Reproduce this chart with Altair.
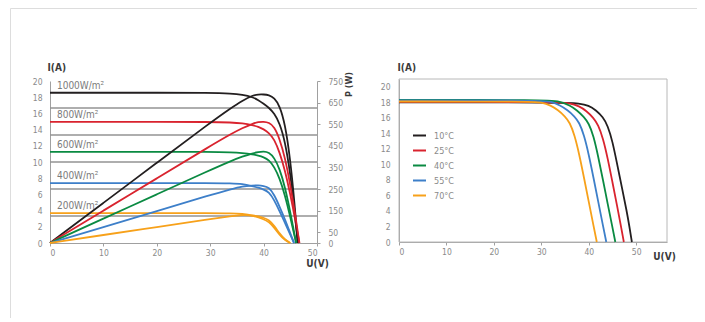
import altair as alt
import pandas as pd

# ---------------- Left chart: I-V and P-V curves at several irradiances ----------------
IRR = ["1000W/m²", "800W/m²", "600W/m²", "400W/m²", "200W/m²"]
ISC_LEFT = [18.55, 14.95, 11.25, 7.4, 3.7]
LABEL_V = [1.3, 1.3, 1.3, 1.3, 1.3]

V_1000 = [0, 10, 20, 30, 34, 36, 38, 39, 40, 41, 42, 43, 44, 45, 45.8, 46.4]
I_1000 = [18.55, 18.55, 18.55, 18.55, 18.45, 18.3, 18.0, 17.65, 17.2, 16.7, 16.0, 14.8, 12.6, 8.6, 4.0, 0]
P_1000 = [0, 186, 371, 557, 627, 659, 684, 688, 688, 685, 672, 636, 554, 387, 183, 0]

V_800 = [0, 10, 20, 30, 34, 36, 38, 39, 40, 41, 42, 43, 44, 45, 46, 46.7]
I_800 = [14.95, 14.95, 14.95, 14.95, 14.88, 14.78, 14.55, 14.35, 14.05, 13.6, 12.8, 11.2, 9.0, 6.0, 2.6, 0]
P_800 = [0, 150, 299, 449, 506, 532, 553, 560, 562, 558, 538, 482, 396, 270, 120, 0]

V_600 = [0, 10, 20, 30, 34, 36, 38, 39, 40, 41, 42, 43, 44, 45, 45.6, 46.1]
I_600 = [11.25, 11.25, 11.25, 11.25, 11.2, 11.12, 10.95, 10.8, 10.6, 10.25, 9.4, 8.0, 5.9, 3.2, 1.4, 0]
P_600 = [0, 113, 225, 338, 381, 400, 416, 421, 424, 420, 395, 344, 260, 144, 64, 0]

V_400 = [0, 10, 20, 30, 34, 36, 38, 39, 40, 41, 42, 43, 44, 45, 45.7]
I_400 = [7.4, 7.4, 7.4, 7.4, 7.36, 7.3, 7.0, 6.85, 6.6, 6.3, 5.3, 3.9, 2.5, 1.0, 0]
P_400 = [0, 74, 148, 222, 250, 263, 266, 267, 264, 258, 223, 168, 110, 45, 0]

V_200 = [0, 10, 20, 30, 34, 36, 38, 40, 41, 42, 43, 44, 45]
I_200 = [3.7, 3.7, 3.7, 3.7, 3.67, 3.6, 3.4, 2.95, 2.6, 1.9, 1.0, 0.35, 0]
P_200 = [0, 37, 74, 111, 125, 130, 129, 118, 107, 80, 43, 15, 0]

GRID_P = [125, 250, 375, 500, 625]
LEFT_U_TICKS = [0, 10, 20, 30, 40, 50]
LEFT_I_TICKS = [0, 2, 4, 6, 8, 10, 12, 14, 16, 18, 20]
P_TICKS = [0, 50, 150, 250, 350, 450, 550, 650, 750]

# ---------------- Right chart: I-V curves at several temperatures ----------------
TEMPS = ["10°C", "25°C", "40°C", "55°C", "70°C"]

V_10C = [0, 35, 38, 40, 41.5, 43, 44, 45, 46, 47, 48, 48.6, 49.1]
I_10C = [18.0, 18.0, 17.85, 17.6, 17.0, 16.1, 15.0, 13.0, 10.0, 7.0, 4.0, 1.9, 0]
V_25C = [0, 33, 36, 38, 39.5, 41, 42, 43, 44, 45, 46, 46.8, 47.4]
I_25C = [18.05, 18.05, 17.9, 17.5, 16.9, 16.0, 15.1, 13.4, 10.8, 7.7, 4.6, 2.0, 0]
V_40C = [0, 31, 34, 36, 37.5, 39, 40, 41, 42, 43, 44, 45, 45.6]
I_40C = [18.3, 18.3, 18.1, 17.6, 17.0, 16.1, 15.3, 13.7, 11.0, 8.0, 4.9, 1.9, 0]
V_55C = [0, 30, 32, 34, 35.5, 37, 38, 39, 40, 41, 42, 43, 43.7]
I_55C = [18.25, 18.25, 18.1, 17.6, 17.0, 16.2, 15.4, 13.8, 11.3, 8.3, 5.2, 2.1, 0]
V_70C = [0, 28, 30, 32, 33.5, 35, 36, 37, 38, 39, 40, 41, 41.7]
I_70C = [18.1, 18.1, 18.0, 17.6, 17.0, 16.2, 15.4, 13.8, 11.3, 8.3, 5.2, 2.1, 0]

RIGHT_U_TICKS = [0, 10, 20, 30, 40, 50]
RIGHT_I_TICKS = [0, 2, 4, 6, 8, 10, 12, 14, 16, 18, 20]
RIGHT_U_MAX = [56.5]
RIGHT_I_MAX = [21]

COLORS = ["#231f20", "#d9232e", "#0a8a42", "#3d7fc9", "#f7a11a"]

# ---------------- tables ----------------
left_sets = [(V_1000, I_1000, P_1000), (V_800, I_800, P_800), (V_600, I_600, P_600),
             (V_400, I_400, P_400), (V_200, I_200, P_200)]
left_df = pd.concat(
    [pd.DataFrame({"U": v, "I": i, "P": p, "s": name})
     for name, (v, i, p) in zip(IRR, left_sets)],
    ignore_index=True)
label_df = pd.DataFrame({"U": LABEL_V, "I": ISC_LEFT, "s": IRR})
grid_df = pd.DataFrame({"P": GRID_P})

right_sets = [(V_10C, I_10C), (V_25C, I_25C), (V_40C, I_40C), (V_55C, I_55C), (V_70C, I_70C)]
right_df = pd.concat(
    [pd.DataFrame({"U": v, "I": i, "t": name})
     for name, (v, i) in zip(TEMPS, right_sets)],
    ignore_index=True)
frame_df = pd.DataFrame({"u0": [0], "u1": RIGHT_U_MAX, "i0": [0], "i1": RIGHT_I_MAX})

FONT = "'Liberation Sans Narrow', 'DejaVu Sans Condensed', 'Roboto Condensed', 'Liberation Sans', sans-serif"
AX = "#a0a0a0"
LAB = "#8a8a8a"
TIT = "#3a3a3a"

# scales (pixel ranges place the two panels inside one framed view)
LX = alt.Scale(domain=[0, 50], range=[40, 307])
LY = alt.Scale(domain=[0, 20], range=[235, 73])
LP = alt.Scale(domain=[0, 750], range=[235, 73])
RX = alt.Scale(domain=[0, 56.5], range=[389, 657])
RY = alt.Scale(domain=[0, 21], range=[234, 71])
LC = alt.Scale(domain=IRR, range=COLORS)
RC = alt.Scale(domain=TEMPS, range=COLORS)

common_axis = dict(domainColor=AX, tickColor=AX, labelColor=LAB, labelFont=FONT,
                   labelFontSize=8.5, titleFont=FONT, titleColor=TIT, titleFontSize=10,
                   titleFontWeight="bold", grid=False)

grid = alt.Chart(grid_df).mark_rule(color="#939393", strokeWidth=1.5).encode(
    y=alt.Y("P:Q", scale=LP, axis=None),
    x=alt.X(datum=0, scale=LX, axis=None),
    x2=alt.X2(datum=50),
)

left_iv = alt.Chart(left_df).mark_line(strokeWidth=1.8, interpolate="basis").encode(
    x=alt.X("U:Q", scale=LX, axis=alt.Axis(
        orient="bottom", offset=-75, values=LEFT_U_TICKS, tickSize=3, labelPadding=2,
        title="U(V)", titleX=307, titleY=23, titleAlign="center",
        titleBaseline="alphabetic", **common_axis)),
    y=alt.Y("I:Q", scale=LY, axis=alt.Axis(
        orient="left", offset=-40, values=LEFT_I_TICKS, ticks=False, labelPadding=8,
        title="I(A)", titleAngle=0, titleX=-3, titleY=62, titleAlign="left",
        titleBaseline="alphabetic", **common_axis)),
    color=alt.Color("s:N", scale=LC, legend=None),
    detail="s:N",
)

left_pv = alt.Chart(left_df).mark_line(strokeWidth=1.8, interpolate="basis").encode(
    x=alt.X("U:Q", scale=LX, axis=None),
    y=alt.Y("P:Q", scale=LP, axis=alt.Axis(
        orient="right", offset=-380, values=P_TICKS, tickSize=3, labelPadding=8,
        title="P (W)", titleAngle=270, titleX=31, titleY=76, titleAlign="center",
        titleBaseline="middle", titleFontSize=9, **{k: v for k, v in common_axis.items() if k != "titleFontSize"})),
    color=alt.Color("s:N", scale=LC, legend=None),
)

labels = alt.Chart(label_df).mark_text(
    align="left", baseline="middle", dy=-7, font=FONT, fontSize=10, color="#7b7b7b"
).encode(
    x=alt.X("U:Q", scale=LX, axis=None),
    y=alt.Y("I:Q", scale=LY, axis=None),
    text="s:N",
)

frame = alt.Chart(frame_df).mark_rect(fillOpacity=0, stroke="#b8b8b8", strokeWidth=1).encode(
    x=alt.X("u0:Q", scale=RX, axis=None),
    x2="u1:Q",
    y=alt.Y("i0:Q", scale=RY, axis=None),
    y2="i1:Q",
)

right_iv = alt.Chart(right_df).mark_line(strokeWidth=1.8, interpolate="basis").encode(
    x=alt.X("U:Q", scale=RX, axis=alt.Axis(
        orient="bottom", offset=-76, values=RIGHT_U_TICKS, tickSize=3, labelPadding=2,
        title="U(V)", titleX=654, titleY=17, titleAlign="center",
        titleBaseline="alphabetic", **common_axis)),
    y=alt.Y("I:Q", scale=RY, axis=alt.Axis(
        orient="left", offset=-389, values=RIGHT_I_TICKS, ticks=False, labelPadding=9,
        title="I(A)", titleAngle=0, titleX=-2, titleY=62, titleAlign="left",
        titleBaseline="alphabetic", **common_axis)),
    color=alt.Color("t:N", scale=RC, legend=alt.Legend(
        orient="none", legendX=402, legendY=120, title=None, symbolType="stroke",
        symbolSize=169, symbolStrokeWidth=2, labelFont=FONT, labelFontSize=9,
        labelColor=LAB, labelOffset=7, rowPadding=2, padding=0)),
)

chart = alt.layer(grid, left_iv, left_pv, labels, frame, right_iv).resolve_scale(
    x="independent", y="independent", color="independent"
).properties(
    width=687, height=310,
    padding={"left": 2, "top": 0, "right": 0, "bottom": 0},
    autosize="none",
).configure_view(stroke="#d4d4d4", strokeWidth=1).configure(background="white")

chart.save("out.html", embed_options={"renderer": "svg", "actions": False})
